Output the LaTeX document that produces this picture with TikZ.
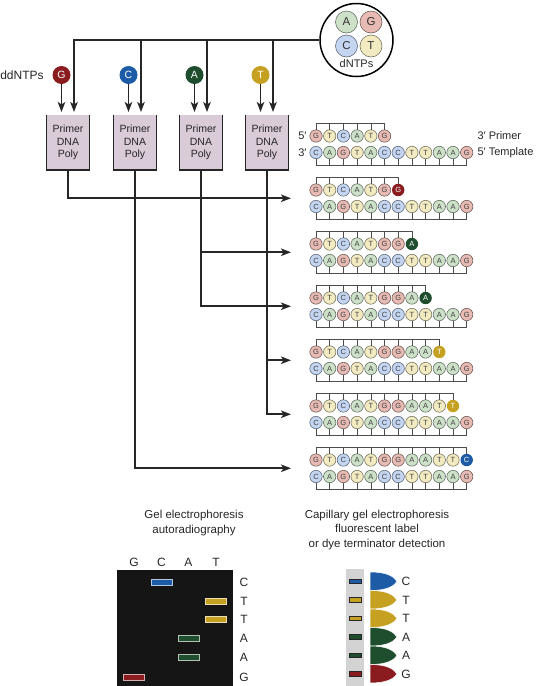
\documentclass[tikz,border=0pt]{standalone}
\usepackage{fontspec}
\setmainfont{Liberation Sans}
\usetikzlibrary{arrows.meta,calc,positioning}
\definecolor{lightA}{HTML}{CDE1C9}
\definecolor{lightG}{HTML}{E7BAB3}
\definecolor{lightC}{HTML}{C3D5F1}
\definecolor{lightT}{HTML}{F2EBC2}
\definecolor{darkA}{HTML}{1F4E2E}
\definecolor{darkG}{HTML}{8A1C1F}
\definecolor{darkC}{HTML}{1D5BA6}
\definecolor{darkT}{HTML}{C6A020}
\definecolor{tubefill}{HTML}{DACBD9}
\definecolor{lanegray}{HTML}{D3D3D3}
\definecolor{gelblack}{HTML}{151515}
\tikzset{
  nuc/.style     = {circle, minimum size=12.4pt, inner sep=0pt, line width=0.6pt,
                    font=\fontsize{7.5}{8}\selectfont, text=black!75},
  nucA/.style    = {nuc, fill=lightA, draw=lightA!50!black},
  nucG/.style    = {nuc, fill=lightG, draw=lightG!50!black},
  nucC/.style    = {nuc, fill=lightC, draw=lightC!50!black},
  nucT/.style    = {nuc, fill=lightT, draw=lightT!50!black},
  ddnuc/.style   = {nuc, draw=none, text=white},
  ddA/.style     = {ddnuc, fill=darkA},
  ddG/.style     = {ddnuc, fill=darkG},
  ddC/.style     = {ddnuc, fill=darkC},
  ddT/.style     = {ddnuc, fill=darkT},
  bignuc/.style  = {minimum size=18pt, font=\fontsize{10.5}{11}\selectfont},
  pool/.style    = {minimum size=22pt, font=\fontsize{11.5}{12}\selectfont, text=black!80},
  bond/.style    = {line width=0.6pt, black!70},
  tube/.style    = {fill=tubefill, minimum width=43pt, minimum height=55pt, inner sep=0pt,
                    align=center, font=\fontsize{10.5}{12.5}\selectfont, text=black!85},
  tubewall/.style= {line width=1.5pt, black!85},
  wire/.style    = {line width=1.7pt, black!85},
  feed/.style    = {wire, -{Stealth[length=10pt,width=7.5pt,inset=2.5pt]}},
  lab/.style     = {font=\fontsize{11}{13}\selectfont, text=black!85},
  title/.style   = {font=\fontsize{11.5}{14.5}\selectfont, align=center, text=black!85},
  gelband/.style = {line width=0.8pt},
  capband/.style = {line width=0.7pt, draw=black!85},
  peak/.style    = {draw=white, line width=0.5pt},
}
\def\basex{316}
\def\basestep{13.7}
\def\noterm{}
% primer strand, ticks on top
\newcommand{\strandtop}[4]{%
  \foreach \b [count=\i] in {#3} {
    \node[nuc\b] (#1\i) at ({\basex+\basestep*(\i-1)}, #2) {\b};
    \xdef\nlast{\i}
  }
  \def\termlet{#4}%
  \ifx\termlet\noterm\else
    \pgfmathtruncatemacro\nlast{\nlast+1}
    \node[dd#4] (#1\nlast) at ({\basex+\basestep*(\nlast-1)}, #2) {#4};
  \fi
  \foreach \i in {1,...,\nlast} {\draw[bond] (#1\i.north) -- ++(0,-6.6);}
  \draw[bond] ([yshift=6.6pt]#11.north) -- ([yshift=6.6pt]#1\nlast.north);
}
% template strand, ticks below
\newcommand{\strandbot}[2]{%
  \foreach \b [count=\i] in {C,A,G,T,A,C,C,T,T,A,A,G} {
    \node[nuc\b] (#1\i) at ({\basex+\basestep*(\i-1)}, #2) {\b};
    \draw[bond] (#1\i.south) -- ++(0,6.6);
  }
  \draw[bond] ([yshift=-6.6pt]#11.south) -- ([yshift=-6.6pt]#112.south);
}

\begin{document}
\begin{tikzpicture}[x=1pt, y=-1pt]
  \useasboundingbox (0,0) rectangle (543,686);

  % dNTP pool
  \node[circle, draw, line width=1.5pt, minimum size=73pt] (dntp) at (356.5,40) {};
  \node[nucA, pool] (poolA) at (346.5,22) {A};
  \node[nucG, pool] (poolG) at (371,22)   {G};
  \node[nucC, pool] (poolC) at (346.5,46) {C};
  \node[nucT, pool] (poolT) at (371,46)   {T};
  \node[lab] (poollab) at (356.5,64) {dNTPs};

  % reaction tubes
  \foreach \n/\x in {G/68, C/135, A/201, T/267} {
    \node[tube] (tube\n) at (\x,142.5) {Primer\\DNA\\Poly};
    \draw[tubewall] (tube\n.north west) -- (tube\n.south west)
                    -- (tube\n.south east) -- (tube\n.north east);
    \node[dd\n, bignuc] (term\n) at (\x-6.5,75) {\n};
    \coordinate (drop\n) at (\x+6,112);
    \draw[feed] (term\n) -- (term\n |- drop\n);
  }
  \node[lab, font=\fontsize{12}{13}\selectfont, left=5pt of termG] (ddlab) {ddNTPs};

  \draw[feed] (dntp.west) -| (dropG);
  \foreach \n in {C,A,T}
    \draw[feed] (dntp.west -| drop\n) -- (drop\n);

  % primer / template
  \strandtop{s0p}{136}{G,T,C,A,T,G}{}
  \strandbot{s0t}{152.5}
  \node[lab, anchor=east] (p5) at (310,136) {5′};
  \node[lab, anchor=east] (t3) at (310,152.5) {3′};
  \node[lab, anchor=west] (p3) at (474,136) {3′ Primer};
  \node[lab, anchor=west] (t5) at (474,152.5) {5′ Template};

  % terminated products
  \strandtop{s1p}{190}{G,T,C,A,T,G}{G}
  \strandbot{s1t}{206.5}
  \strandtop{s2p}{244}{G,T,C,A,T,G,G}{A}
  \strandbot{s2t}{260.5}
  \strandtop{s3p}{298}{G,T,C,A,T,G,G,A}{A}
  \strandbot{s3t}{314.5}
  \strandtop{s4p}{352}{G,T,C,A,T,G,G,A,A}{T}
  \strandbot{s4t}{368.5}
  \strandtop{s5p}{406}{G,T,C,A,T,G,G,A,A,T}{T}
  \strandbot{s5t}{422.5}
  \strandtop{s6p}{460}{G,T,C,A,T,G,G,A,A,T,T}{C}
  \strandbot{s6t}{476.5}

  \foreach \k in {1,...,6}
    \coordinate (in\k) at ($(s\k p1)!.5!(s\k t1)+(-25,0)$);

  \draw[feed] (tubeG) |- (in1);
  \draw[feed] (tubeA) |- (in2);
  \draw[feed] (tubeA) |- (in3);
  \draw[feed] (tubeT) |- (in4);
  \draw[feed] (tubeT) |- (in5);
  \draw[feed] (tubeC) |- (in6);

  % slab gel
  \node[title] (geltitle) at (194,523) {Gel electrophoresis\\autoradiography};
  \fill[gelblack] (117,570) rectangle (233,686);
  \foreach \l/\x in {G/134, C/161.5, A/188.5, T/216}
    \node[lab, font=\fontsize{12}{13}\selectfont] (lane\l) at (\x,562) {\l};
  \foreach \x/\y/\c in {161.5/582/darkC, 216/601/darkT, 216/619/darkT,
                        188.5/638/darkA, 188.5/657/darkA, 134/677/darkG}
    \draw[gelband, fill=\c, draw=\c!35!white] (\x-10.5,\y-3) rectangle (\x+10.5,\y+3);
  \foreach \l/\y [count=\i] in {C/582, T/601, T/619, A/638, A/657, G/677}
    \node[lab, font=\fontsize{12}{13}\selectfont] (gelrow\i) at (244,\y) {\l};

  % capillary
  \node[title] (captitle) at (377,530)
    {Capillary gel electrophoresis\\fluorescent label\\or dye terminator detection};
  \fill[lanegray] (346,569) rectangle (364,686);
  \foreach \l/\y/\c [count=\i] in {C/581.5/darkC, T/600/darkT, T/618.5/darkT,
                                   A/637/darkA, A/655.5/darkA, G/674/darkG} {
    \draw[capband, fill=\c] (349.5,\y-2.3) rectangle (361,\y+2.3);
    \filldraw[peak, fill=\c] (370,\y-9.5) .. controls (387,\y-9.5) and (394,\y-5) .. (397,\y)
              .. controls (394,\y+4.5) and (387,\y+9) .. (370,\y+9) -- cycle;
    \node[lab, font=\fontsize{12}{13}\selectfont] (caprow\i) at (406,\y) {\l};
  }
\end{tikzpicture}
\end{document}
